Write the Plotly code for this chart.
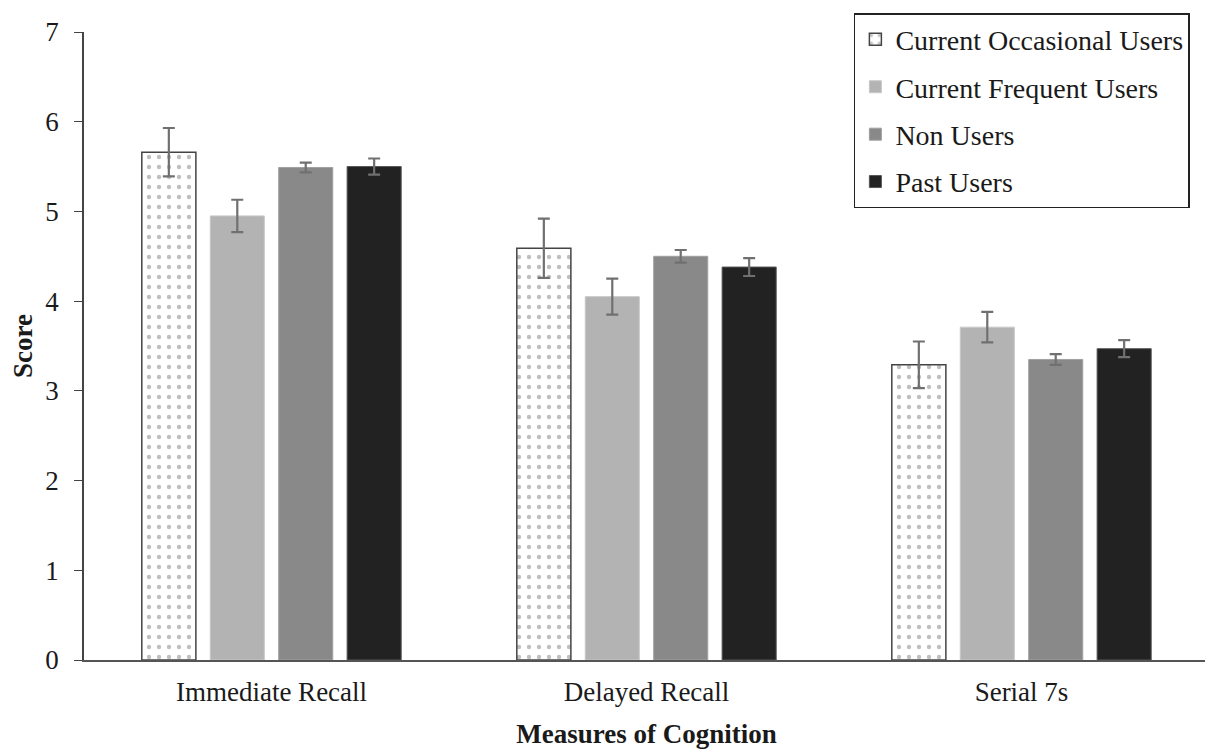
import plotly.graph_objects as go

categories = ["Immediate Recall", "Delayed Recall", "Serial 7s"]
series_names = ["Current Occasional Users", "Current Frequent Users", "Non Users", "Past Users"]
occasional = [5.66, 4.59, 3.29]
occasional_err = [0.27, 0.33, 0.26]
frequent = [4.95, 4.05, 3.71]
frequent_err = [0.18, 0.20, 0.17]
non_users = [5.49, 4.50, 3.35]
non_users_err = [0.055, 0.07, 0.06]
past = [5.50, 4.38, 3.47]
past_err = [0.09, 0.10, 0.095]
y_ticks = [0, 1, 2, 3, 4, 5, 6, 7]

values = [occasional, frequent, non_users, past]
errors = [occasional_err, frequent_err, non_users_err, past_err]
colors = ["white", "#b3b3b3", "#898989", "#222222"]
line_colors = ["#444444", "#c8c8c8", "#a0a0a0", "#555555"]

FONT = "Liberation Serif, Times New Roman, serif"

fig = go.Figure()
for i, name in enumerate(series_names):
    marker = dict(color=colors[i], line=dict(color=line_colors[i], width=1.5 if i == 0 else 1))
    if i == 0:
        marker["pattern"] = dict(shape=".", fgcolor="#808080", bgcolor="white", size=10, solidity=0.15)
    fig.add_trace(go.Bar(
        x=categories, y=values[i], name=name, legendgroup=name,
        marker=marker,
        error_y=dict(type="data", array=errors[i], color="#707070", thickness=2.2, width=6),
    ))

fig.update_layout(
    width=1205, height=745,
    margin=dict(l=76, r=4, t=24, b=93),
    paper_bgcolor="white", plot_bgcolor="white",
    barmode="group", bargap=0.27, bargroupgap=0.21,
    font=dict(family=FONT, size=27, color="#1a1a1a"),
    legend=dict(
        x=0.983, xanchor="right", y=1.03, yanchor="top",
        bordercolor="#222222", borderwidth=1.5, bgcolor="white",
        font=dict(family=FONT, size=28, color="#1a1a1a"),
        tracegroupgap=8, itemwidth=30,
    ),
    xaxis=dict(
        showline=True, linecolor="#555555", linewidth=1.5,
        ticks="", tickfont=dict(family=FONT, size=27), ticklabelstandoff=7,
        title=dict(text="<b>Measures of Cognition</b>", font=dict(family=FONT, size=27), standoff=18),
    ),
    yaxis=dict(
        range=[0, 7], tickvals=y_ticks, showline=True, linecolor="#444444", linewidth=1.5,
        ticks="outside", ticklen=8, tickcolor="#444444", showgrid=False, zeroline=False,
        tickfont=dict(family=FONT, size=27), ticklabelstandoff=10,
        title=dict(text="<b>Score</b>", font=dict(family=FONT, size=27), standoff=8),
    ),
)

fig.write_html("out.html")
